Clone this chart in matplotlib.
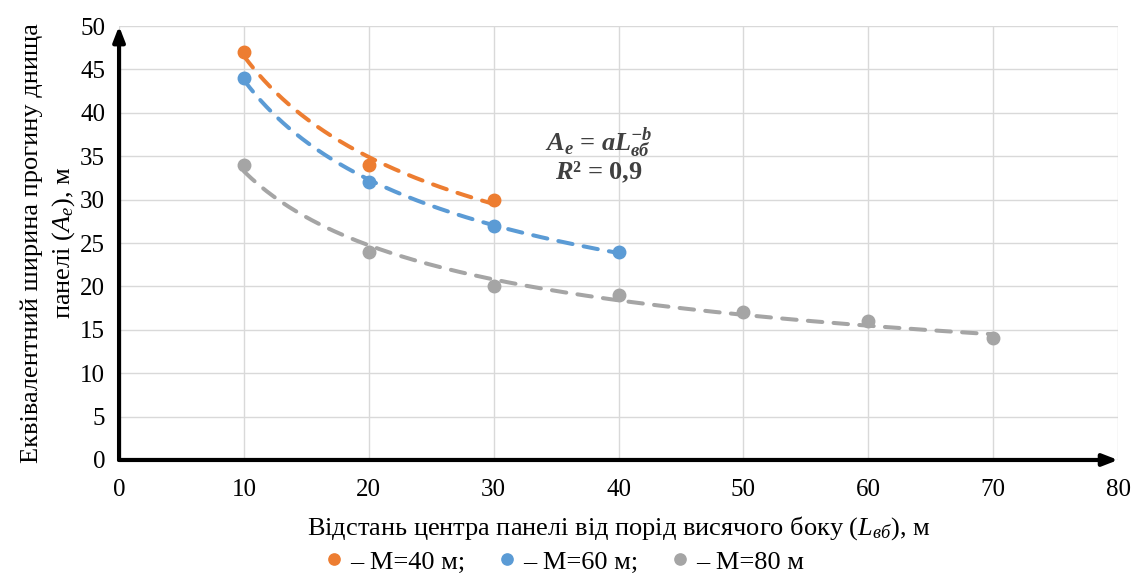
import matplotlib
matplotlib.use("Agg")
from matplotlib import pyplot as plt
import numpy as np

plt.rcParams["font.family"] = ["Liberation Serif", "DejaVu Serif"]
plt.rcParams["mathtext.fontset"] = "custom"
plt.rcParams["mathtext.rm"] = "Liberation Serif"
plt.rcParams["mathtext.it"] = "Liberation Serif:italic"
plt.rcParams["mathtext.bf"] = "Liberation Serif:bold"
plt.rcParams["mathtext.bfit"] = "Liberation Serif:italic:bold"

# distance from panel centre (m) and equivalent width (m)
x_40 = [10, 20, 30]
y_40 = [47, 34, 30]

x_60 = [10, 20, 30, 40]
y_60 = [44, 32, 27, 24]

x_80 = [10, 20, 30, 40, 50, 60, 70]
y_80 = [34, 24, 20, 19, 17, 16, 14]

labels = ["– M=40 м;", "– M=60 м;", "– M=80 м"]
colors = ["#ED7D31", "#5B9BD5", "#A5A5A5"]

fig = plt.figure(figsize=(11.36, 5.77), dpi=100)
ax = fig.add_axes([0.1048, 0.2028, 0.8794, 0.752])

for xs, ys, lab, c in zip([x_40, x_60, x_80], [y_40, y_60, y_80], labels, colors):
    xs = np.array(xs, dtype=float)
    ys = np.array(ys, dtype=float)
    # power trend line  y = a * x^-b  (fitted in log space)
    b, loga = np.polyfit(np.log(xs), np.log(ys), 1)
    xf = np.linspace(xs.min(), xs.max(), 200)
    yf = np.exp(loga) * xf ** b
    ax.plot(xf, yf, color=c, lw=2.9, ls=(0, (3.6, 2.8)), dash_capstyle="round", zorder=3)
    ax.plot(xs, ys, "o", color=c, ms=9, label=lab, zorder=4)

ax.set_xlim(0, 80)
ax.set_ylim(0, 50)
ax.set_xticks(range(0, 81, 10))
ax.set_yticks(range(0, 51, 5))
ax.grid(True, color="#D9D9D9", lw=1)
ax.set_axisbelow(True)
for s in ax.spines.values():
    s.set_visible(False)
ax.tick_params(length=0, labelsize=18, pad=14)
ax.tick_params(axis="y", pad=10)

# axes with arrows
ax.annotate("", xy=(1.0, 0), xytext=(0, 0), xycoords="axes fraction",
            arrowprops=dict(arrowstyle="-|>,head_length=0.9,head_width=0.35", lw=3, color="black",
                            shrinkA=0, shrinkB=0), annotation_clip=False)
ax.annotate("", xy=(0, 1.0), xytext=(0, 0), xycoords="axes fraction",
            arrowprops=dict(arrowstyle="-|>,head_length=0.9,head_width=0.35", lw=3, color="black",
                            shrinkA=0, shrinkB=0), annotation_clip=False)

ax.set_xlabel(r"Відстань центра панелі від порід висячого боку ($\mathit{L_{вб}}$), м",
              fontsize=19, labelpad=9)
ax.set_ylabel("Еквівалентний ширина прогину днища\n" + r"панелі ($\mathit{A_{е}}$), м",
              fontsize=19, labelpad=2, linespacing=1.4)

ax.text(38.4, 36.6, r"$\mathbfit{A_{е}}$ = $\mathbfit{aL_{вб}^{-b}}$", fontsize=19,
        fontweight="bold", ha="center", va="center", color="#404040")
ax.text(38.4, 33.2, r"$\mathbfit{R}$² = 0,9", fontsize=19, fontweight="bold",
        ha="center", va="center", color="#404040")

fig.legend(loc="center", bbox_to_anchor=(0.495, 0.026), ncol=3, frameon=False,
           fontsize=19, handletextpad=0.1, columnspacing=1.1, handlelength=1.0,
           markerscale=0.9)

fig.savefig("out.png", dpi=100)
